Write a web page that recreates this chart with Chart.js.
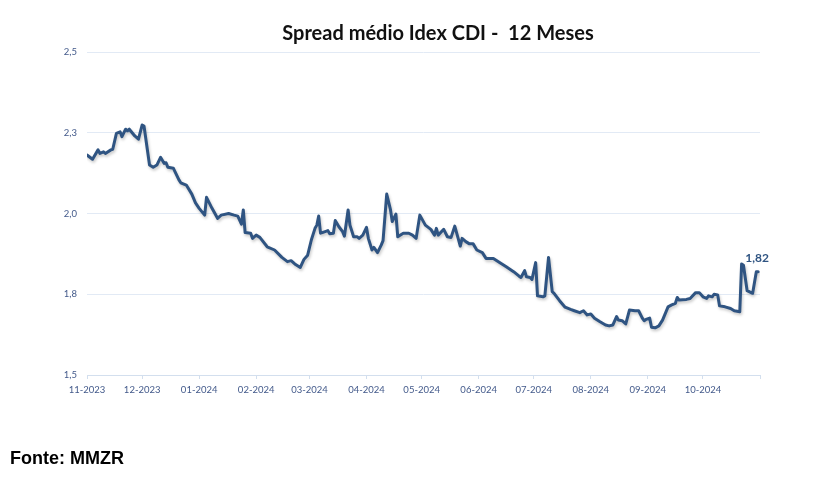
<!DOCTYPE html>
<html lang="pt-BR">
<head>
<meta charset="utf-8">
<title>Spread médio Idex CDI - 12 Meses</title>
<script src="https://cdn.jsdelivr.net/npm/chart.js@4.4.1/dist/chart.umd.min.js"></script>
<style>
  html, body { margin: 0; padding: 0; background: #fff; overflow: hidden; }
  #wrap { position: relative; width: 820px; height: 477px; }
  #spreadChart { display: block; }
  #titulo { position: absolute; left: 56px; top: 22px; width: 764px; text-align: center;
            font: bold 20px/20px Lato, sans-serif; color: #111; white-space: pre; }
  #fonte { position: absolute; left: 10px; top: 449px;
           font: bold 18px/18px "Liberation Sans", Arial, sans-serif; color: #000; }
</style>
</head>
<body>
<div id="wrap">
  <canvas id="spreadChart" width="820" height="477"></canvas>
  <div id="titulo">Spread médio Idex CDI -  12 Meses</div>
  <div id="fonte">Fonte: MMZR</div>
</div>
<script>
// dias contados a partir de 01/11/2023
const diasMeses = [0, 30, 61, 92, 121, 152, 182, 213, 243, 274, 305, 335, 366];
const rotulosMeses = ['11-2023','12-2023','01-2024','02-2024','03-2024','04-2024',
                      '05-2024','06-2024','07-2024','08-2024','09-2024','10-2024',''];
const ticksY = [1.5, 1.75, 2.0, 2.25, 2.5];

const dias = [
  0,3,6,7,9,10,13,14,16,18,19,21,22,23,26,28,30,31,34,36,38,40,42,43,44,47,50,51,54,57,59,61,64,65,
  68,71,73,77,80,82,84,85,86,89,90,92,94,98,102,106,109,111,113,116,118,120,122,124,125,126,127,
  128,131,132,134,135,137,139,140,142,143,145,147,148,150,152,153,155,156,158,160,161,163,165,166,168,169,
  172,175,177,179,181,184,187,189,190,191,194,196,198,200,202,203,204,206,208,
  210,212,215,217,221,225,228,232,235,236,238,239,241,242,244,245,248,249,251,253,254,257,260,263,265,268,
  270,272,274,276,279,282,284,286,288,289,291,293,295,298,300,302,303,304,306,307,309,311,313,
  316,318,320,321,322,326,328,331,333,335,337,338,340,341,343,344,347,350,352,355,356,357,359,362,364,365
];
const spread = [
  2.181,2.168,2.197,2.186,2.191,2.186,2.197,2.199,2.248,2.253,2.238,2.261,2.256,2.261,2.240,2.230,2.274,2.271,
  2.150,2.143,2.150,2.174,2.155,2.157,2.143,2.140,2.104,2.095,2.088,2.060,2.033,2.016,1.995,2.050,
  2.016,1.985,1.995,2.000,1.995,1.992,1.967,2.011,1.941,1.939,1.923,1.933,1.926,1.897,1.887,1.864,1.851,1.854,
  1.844,1.833,1.858,1.871,1.918,1.954,1.964,1.992,1.939,
  1.941,1.947,1.937,1.939,1.978,1.959,1.944,1.930,2.011,1.964,1.928,1.928,1.923,1.933,1.957,1.923,1.887,1.895,
  1.879,1.902,1.916,2.060,2.013,1.975,1.998,1.928,
  1.939,1.939,1.933,1.923,1.995,1.964,1.951,1.933,1.954,1.933,1.951,1.928,1.926,1.961,1.920,1.899,1.923,1.913,1.906,
  1.906,1.887,1.879,1.861,1.861,1.846,1.835,1.820,1.806,1.802,1.823,1.804,1.802,1.796,1.848,1.745,1.742,1.745,
  1.864,1.758,1.753,1.730,1.710,1.703,1.699,1.693,
  1.699,1.686,1.689,1.676,1.665,1.655,1.652,1.655,1.681,1.670,1.668,1.658,1.701,1.699,1.699,1.676,1.668,1.672,
  1.676,1.648,1.646,1.652,1.670,
  1.711,1.717,1.722,1.740,1.732,1.734,1.737,1.755,1.755,1.742,1.737,1.745,1.742,1.750,1.748,1.714,1.711,1.706,
  1.699,1.696,1.844,1.840,1.761,1.753,1.820,1.820
];

const corLinha = '#2f5482';
const corTexto = '#42598a';

const pontos = dias.map((d, i) => ({ x: d, y: spread[i] }));

// leve sombra como no grafico do Excel
const sombra = {
  id: 'sombra',
  beforeDatasetDraw(chart) {
    const c = chart.ctx;
    c.save();
    c.shadowColor = 'rgba(0,0,0,0.22)';
    c.shadowBlur = 3;
    c.shadowOffsetX = 1;
    c.shadowOffsetY = 2;
  },
  afterDatasetDraw(chart) { chart.ctx.restore(); }
};

// rotulo do ultimo valor
const rotuloFinal = {
  id: 'rotuloFinal',
  afterDatasetsDraw(chart) {
    const meta = chart.getDatasetMeta(0);
    const p = meta.data[meta.data.length - 1];
    const v = spread[spread.length - 1];
    const c = chart.ctx;
    c.save();
    c.font = 'bold 12px Lato, sans-serif';
    c.fillStyle = corLinha;
    c.textAlign = 'center';
    c.textBaseline = 'alphabetic';
    c.fillText(v.toFixed(2).replace('.', ','), p.x - 1, p.y - 10);
    c.restore();
  }
};

const ctx = document.getElementById('spreadChart').getContext('2d');
const chart = new Chart(ctx, {
  type: 'line',
  data: {
    datasets: [{
      label: 'Spread médio',
      data: pontos,
      borderColor: corLinha,
      borderWidth: 3,
      pointRadius: 0,
      tension: 0,
      borderJoinStyle: 'round',
      borderCapStyle: 'round'
    }]
  },
  options: {
    responsive: false,
    animation: false,
    layout: { padding: { top: 52, right: 60, bottom: 77, left: 0 } },
    plugins: { legend: { display: false }, tooltip: { enabled: false } },
    scales: {
      x: {
        type: 'linear', min: 0, max: 366,
        afterBuildTicks: s => { s.ticks = diasMeses.map(v => ({ value: v })); },
        afterFit: s => { s.height = 25; },
        ticks: {
          autoSkip: false, maxRotation: 0, padding: 5, color: corTexto,
          font: { family: 'Lato', size: 9.5 },
          callback: (v, i) => rotulosMeses[i]
        },
        grid: { drawOnChartArea: false, drawTicks: true, tickLength: 4, color: '#d3dfee' },
        border: { color: '#d3dfee' }
      },
      y: {
        min: 1.5, max: 2.5,
        afterBuildTicks: s => { s.ticks = ticksY.map(v => ({ value: v })); },
        afterFit: s => { s.width = 87; },
        ticks: {
          padding: 10, color: corTexto,
          font: { family: 'Lato', size: 9.5 },
          callback: v => v.toFixed(1).replace('.', ',')
        },
        grid: { color: '#e2eaf5', drawTicks: false },
        border: { display: false }
      }
    }
  },
  plugins: [sombra, rotuloFinal]
});
</script>
</body>
</html>
